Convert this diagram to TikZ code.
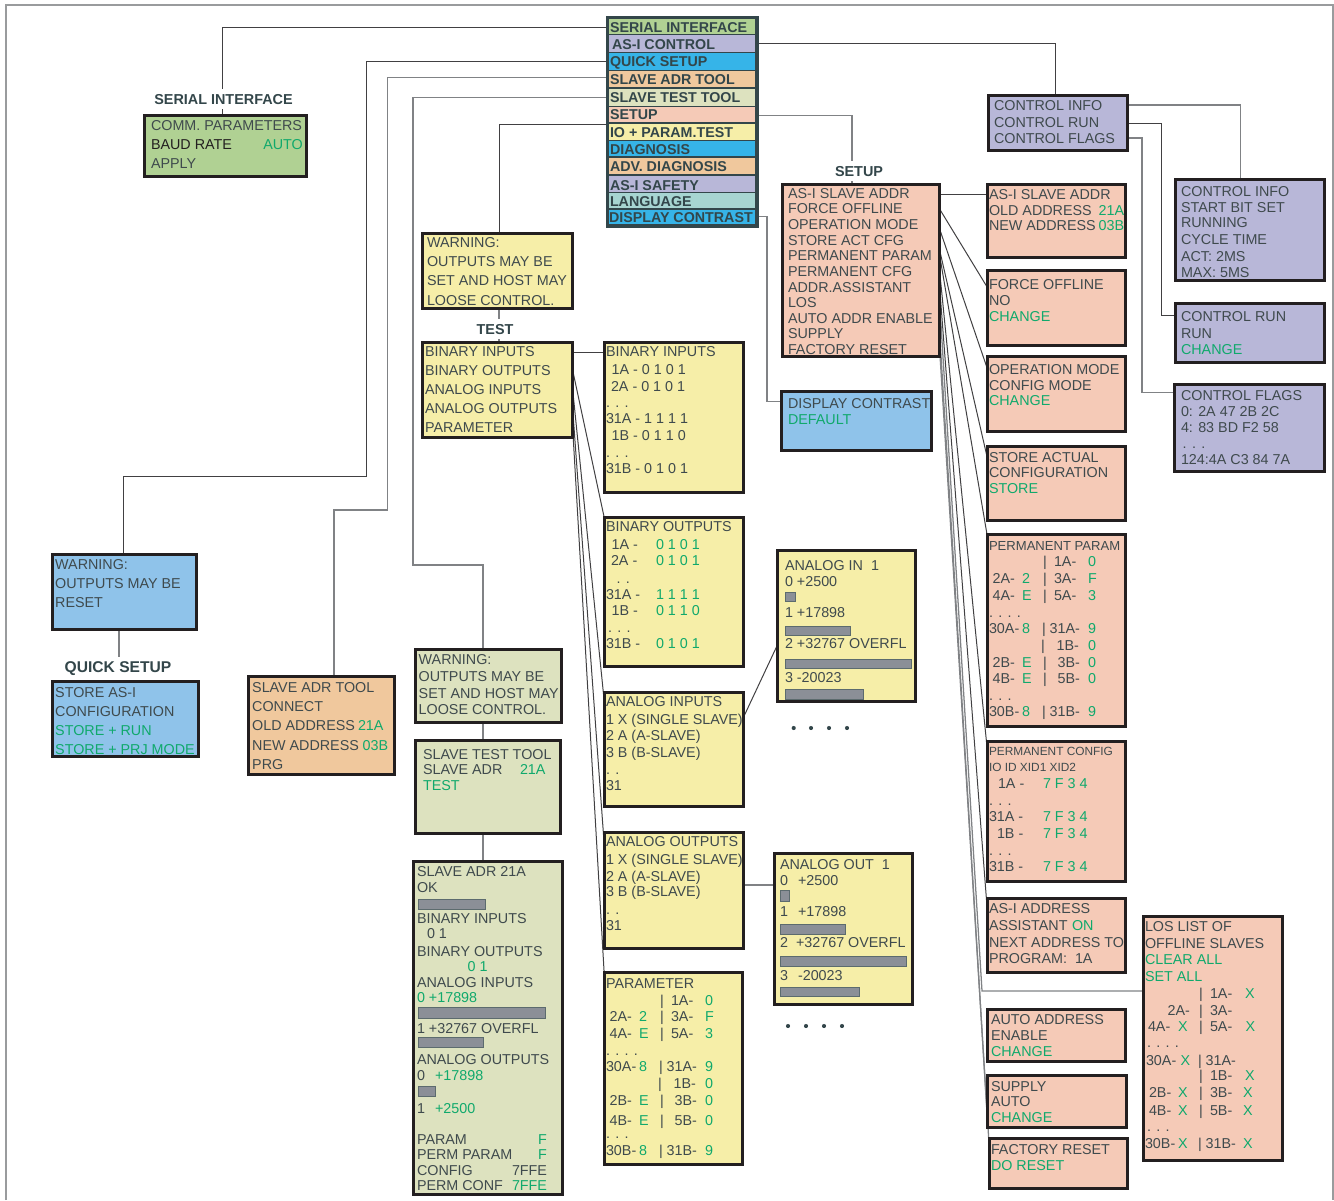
\documentclass[tikz,border=0pt]{standalone}
\usepackage{fontspec}
\setmainfont{Liberation Sans}
\usetikzlibrary{backgrounds}
\definecolor{tc}{HTML}{3F4A4D}
\definecolor{gr}{HTML}{10A96C}
\definecolor{edge}{HTML}{231F20}
\definecolor{cGreen}{HTML}{B0D193}
\definecolor{cLav}{HTML}{B8B7D8}
\definecolor{cBlue}{HTML}{8FC3EA}
\definecolor{cCyan}{HTML}{36B4E8}
\definecolor{cOrange}{HTML}{F0C89D}
\definecolor{cKhaki}{HTML}{DDE2BF}
\definecolor{cSalmon}{HTML}{F5CAB7}
\definecolor{cYellow}{HTML}{F6EEA8}
\definecolor{cTeal}{HTML}{A7D5D1}
\definecolor{cFrame}{HTML}{33464A}
\definecolor{ldark}{HTML}{414042}
\definecolor{lgrey}{HTML}{808285}
\definecolor{cBar}{HTML}{8B8F97}
\newcounter{tn}
\newcommand\tl[2]{\stepcounter{tn}\node[txt] (t\thetn) at (#1) {#2};}
\newcommand\gl[2]{\stepcounter{tn}\node[txt,text=gr] (t\thetn) at (#1) {#2};}
\newcommand\fs[1]{\fontsize{#1}{#1}\selectfont}
% name, fill, outer x1,y1,x2,y2
\newcommand\bx[6]{%
  \pgfmathsetmacro\bw{(#5-#3-2.8)*0.75}%
  \pgfmathsetmacro\bh{(#6-#4-2.8)*0.75}%
  \node[boxx,fill=#2,minimum width=\bw pt,minimum height=\bh pt] (#1) at ({(#3+#5)/2},{(#4+#6)/2}) {};}
% name, fill, y1, y2, text x, base y, text
\newcommand\mrow[7]{%
  \pgfmathsetmacro\bh{(#4-#3)*0.75}%
  \node[rowbox,fill=#2,minimum height=\bh pt] (#1) at (682,{(#3+#4)/2}) {};
  \stepcounter{tn}\node[txt,font=\fs{10.7}\bfseries,text=cFrame] (t\thetn) at (#5,#6) {#7};}
\newcommand\barr[4]{\draw[barst] (#1,#2) rectangle (#3,#4);}
\newcommand\ptab[1]{%
\tl{1043,566.7}{|}\tl{1054,566.7}{1A-}\gl{1088,566.7}{0}
\tl{992.7,583}{2A-}\gl{1022,583}{2}\tl{1043,583}{|}\tl{1054,583}{3A-}\gl{1088,583}{F}
\tl{992.7,600}{4A-}\gl{1022,600}{E}\tl{1043,600}{|}\tl{1054,600}{5A-}\gl{1088,600}{3}
\tl{989,617}{. . . .}
\tl{989,633}{30A-}\gl{1022,633}{8}\tl{1042,633}{|}\tl{1049.7,633}{31A-}\gl{1088,633}{9}
\tl{1041,650}{|}\tl{1056.7,650}{1B-}\gl{1088,650}{0}
\tl{992.7,667}{2B-}\gl{1022,667}{E}\tl{1043,667}{|}\tl{1057.7,667}{3B-}\gl{1088,667}{0}
\tl{992.7,#1}{4B-}\gl{1022,#1}{E}\tl{1043,#1}{|}\tl{1057.7,#1}{5B-}\gl{1088,#1}{0}
\tl{989,700}{. . .}
\tl{989,716.7}{30B-}\gl{1022,716.7}{8}\tl{1042,716.7}{|}\tl{1049.7,716.7}{31B-}\gl{1088,716.7}{9}}
\tikzset{
  txt/.style={anchor=base west,inner sep=0pt,outer sep=0pt,text=tc,font=\fs{10.75}},
  boxx/.style={draw=edge,line width=2.1pt,inner sep=0pt,outer sep=0pt,rectangle},
  rowbox/.style={rectangle,inner sep=0pt,outer sep=0pt,minimum width=109.5pt},
  lab/.style={anchor=base,fill=white,inner xsep=1pt,inner ysep=3.75pt,font=\fs{10.8}\bfseries,text=cFrame},
  ln/.style={draw=ldark,line width=0.75pt},
  lg/.style={draw=lgrey,line width=0.95pt},
  barst/.style={draw=cFrame!80,fill=cBar,line width=0.6pt},
  dotc/.style={fill=cFrame},
}
\begin{document}
\begin{tikzpicture}[x=0.75pt,y=-0.75pt]
\useasboundingbox (0,0) rectangle (1334,1200);
\draw[draw=lgrey!80,line width=0.9pt] (6,1200) -- (6,5) -- (1333,5) -- (1333,1200);

%% central menu
\node[rectangle,fill=cFrame,inner sep=0pt,outer sep=0pt,minimum width=114.75pt,minimum height=159pt] (menu) at (682,121.5) {};
\mrow{rSerial}{cGreen}{19}{34}{610}{32}{SERIAL INTERFACE}
\mrow{rCtl}{cLav}{35}{52}{612}{49}{AS-I CONTROL}
\mrow{rQuick}{cCyan}{53}{70}{610}{66}{QUICK SETUP}
\mrow{rAdr}{cOrange}{71}{87}{610}{84}{SLAVE ADR TOOL}
\mrow{rTest}{cKhaki}{89}{106}{610}{102}{SLAVE TEST TOOL}
\mrow{rSetup}{cSalmon}{107}{122}{610}{119}{SETUP}
\mrow{rIO}{cYellow}{124}{140}{610}{137}{IO + PARAM.TEST}
\mrow{rDiag}{cCyan}{141}{156}{610}{154}{DIAGNOSIS}
\mrow{rAdv}{cOrange}{158}{174}{610}{171}{ADV. DIAGNOSIS}
\mrow{rSafe}{cLav}{176}{192}{610}{190}{AS-I SAFETY}
\mrow{rLang}{cTeal}{193}{208}{610}{206}{LANGUAGE}
\mrow{rDisp}{cCyan}{210}{224}{609}{222}{DISPLAY CONTRAST}

%% serial
\node[lab] (lSerial) at (223.5,104) {SERIAL INTERFACE};
\bx{bSerial}{cGreen}{143}{114}{308}{178}
\tl{151,130}{COMM. PARAMETERS}
\stepcounter{tn}\node[txt,text=edge] (t\thetn) at (151,149) {BAUD RATE};
\gl{263.3,149}{AUTO}
\tl{151,168}{APPLY}

%% quick setup
\bx{bWarnQ}{cBlue}{51}{553}{198}{631}
\tl{55.2,569}{WARNING:}\tl{55.2,588}{OUTPUTS MAY BE}\tl{55.2,607}{RESET}
\node[lab,font=\fs{11.7}\bfseries] (lQuick) at (118,672.7) {QUICK SETUP};
\bx{bQuick}{cBlue}{51}{680}{199.5}{758}
\tl{55.2,697}{STORE AS-I}\tl{55.2,716}{CONFIGURATION}\gl{55.2,735}{STORE + RUN}\gl{55.2,754}{STORE + PRJ MODE}

%% slave adr tool
\bx{bAdr}{cOrange}{247}{675}{396}{776}
\tl{252.2,692}{SLAVE ADR TOOL}\tl{252.2,711}{CONNECT}
\tl{252.2,730}{OLD ADDRESS}\gl{358,730}{21A}
\tl{252.2,750}{NEW ADDRESS}\gl{362.7,750}{03B}
\tl{252.2,769}{PRG}

%% slave test tool
\bx{bWarnT}{cKhaki}{414}{648}{563}{724}
\tl{418.7,664}{WARNING:}\tl{418.7,681}{OUTPUTS MAY BE}\tl{418.7,698}{SET AND HOST MAY}\tl{418.7,714}{LOOSE CONTROL.}
\bx{bTool}{cKhaki}{414}{739}{562}{835}
\tl{423,759}{SLAVE TEST TOOL}\tl{423,774}{SLAVE ADR}\gl{520,774}{21A}\gl{423,790}{TEST}
\bx{bBig}{cKhaki}{412}{860}{564}{1196}
\tl{417,876}{SLAVE ADR 21A}\tl{417,892}{OK}
\barr{418}{899}{485}{909}
\tl{417,923}{BINARY INPUTS}\tl{427,938}{0 1}
\tl{417,956}{BINARY OUTPUTS}\gl{467.7,971}{0 1}
\tl{417,987}{ANALOG INPUTS}\gl{417,1002}{0 +17898}
\barr{418}{1007}{545.7}{1018}
\tl{417,1033}{1 +32767 OVERFL}
\barr{418}{1037}{483}{1047}
\tl{417,1064}{ANALOG OUTPUTS}
\tl{417,1080}{0}\gl{435,1080}{+17898}
\barr{418}{1086}{435}{1096}
\tl{417,1113}{1}\gl{435,1113}{+2500}
\tl{417,1144}{PARAM}\gl{538,1144}{F}
\tl{417,1159}{PERM PARAM}\gl{538,1159}{F}
\tl{417,1175}{CONFIG}\tl{512,1175}{7FFE}
\tl{417,1190}{PERM CONF}\gl{512,1190}{7FFE}

%% IO + param test
\bx{bWarnIO}{cYellow}{421}{232}{574}{310}
\tl{427,247}{WARNING:}\tl{427,266}{OUTPUTS MAY BE}\tl{427,285}{SET AND HOST MAY}\tl{427,305}{LOOSE CONTROL.}
\node[lab] (lTest) at (495,334) {TEST};
\bx{bIO}{cYellow}{421}{341}{574}{439}
\tl{425,356}{BINARY INPUTS}\tl{425,375}{BINARY OUTPUTS}\tl{425,394}{ANALOG INPUTS}\tl{425,413}{ANALOG OUTPUTS}\tl{425,432}{PARAMETER}

\bx{bBinIn}{cYellow}{602.7}{341}{745}{494}
\tl{606,356.7}{BINARY INPUTS}
\tl{611.7,374}{1A - 0 1 0 1}\tl{611,391}{2A - 0 1 0 1}
\tl{606,407.7}{. . .}
\tl{606,423.7}{31A - 1 1 1 1}\tl{611.7,440}{1B - 0 1 1 0}
\tl{606,457.7}{. . .}
\tl{606,473.7}{31B - 0 1 0 1}

\bx{bBinOut}{cYellow}{602.7}{515.7}{745}{668}
\tl{606,531.7}{BINARY OUTPUTS}
\tl{611.7,549}{1A -}\gl{656,549}{0 1 0 1}
\tl{611,565}{2A -}\gl{656,565}{0 1 0 1}
\tl{616.7,583}{. .}
\tl{606,599}{31A -}\gl{656,599}{1 1 1 1}
\tl{611.7,615}{1B -}\gl{656,615}{0 1 1 0}
\tl{608,632}{. . .}
\tl{606,648}{31B -}\gl{656,648}{0 1 0 1}

\bx{bAnIn}{cYellow}{602.7}{691}{745}{808}
\tl{606,706.7}{ANALOG INPUTS}\tl{606,724}{1 X (SINGLE SLAVE)}\tl{606,740.7}{2 A (A-SLAVE)}\tl{606,757}{3 B (B-SLAVE)}\tl{606,774}{. .}\tl{606,790}{31}

\bx{bAnOut}{cYellow}{602.7}{831}{745}{950}
\tl{606,846.7}{ANALOG OUTPUTS}\tl{606,864}{1 X (SINGLE SLAVE)}\tl{606,881}{2 A (A-SLAVE)}\tl{606,896.7}{3 B (B-SLAVE)}\tl{606,914}{. .}\tl{606,930.7}{31}

\bx{bParam}{cYellow}{602.7}{970.7}{743.5}{1166}
\tl{606,988}{PARAMETER}
\begin{scope}[shift={(-383,438.3)}]
\ptab{686.7}
\end{scope}

\bx{bAI1}{cYellow}{776}{549}{917}{703}
\tl{785,570}{ANALOG IN\ \ 1}\tl{785,586.7}{0 +2500}
\barr{785}{592.7}{795}{601.7}
\tl{785,617.7}{1 +17898}
\barr{785}{626.7}{850.7}{635.7}
\tl{785,648.7}{2 +32767 OVERFL}
\barr{785}{659}{911}{668}
\tl{785,682}{3 -20023}
\barr{785}{689}{863}{699}
\foreach \px in {793.7,811,829,847} {\fill[dotc] (\px,728) circle[radius=1.55pt];}

\bx{bAO1}{cYellow}{772.7}{852}{913.7}{1005.7}
\tl{780,869}{ANALOG OUT\ \ 1}
\tl{780,885}{0}\tl{798,885}{+2500}
\barr{780}{890.7}{789.7}{901.7}
\tl{780,916}{1}\tl{798,916}{+17898}
\barr{780}{924}{845}{934}
\tl{780,947}{2}\tl{796,947}{+32767 OVERFL}
\barr{780}{956.7}{906}{966.7}
\tl{780,980}{3}\tl{798,980}{-20023}
\barr{780}{987}{859.7}{996.7}
\foreach \px in {788,806,824,842} {\fill[dotc] (\px,1026) circle[radius=1.55pt];}

%% setup
\node[lab] (lSetup) at (859,176) {SETUP};
\bx{bSetup}{cSalmon}{781}{183}{941}{358}
\tl{788,198}{AS-I SLAVE ADDR}\tl{788,213}{FORCE OFFLINE}\tl{788,229}{OPERATION MODE}\tl{788,245}{STORE ACT CFG}\tl{788,260}{PERMANENT PARAM}\tl{788,276}{PERMANENT CFG}\tl{788,292}{ADDR.ASSISTANT}\tl{788,307}{LOS}\tl{788,323}{AUTO ADDR ENABLE}\tl{788,338}{SUPPLY}\tl{788,354}{FACTORY RESET}

\bx{bDisp}{cBlue}{780}{390}{933}{452}
\tl{788,408}{DISPLAY CONTRAST}\gl{788,424}{DEFAULT}

\bx{sAddr}{cSalmon}{985.7}{183}{1126.7}{259}
\tl{989,199}{AS-I SLAVE ADDR}\tl{989,215}{OLD ADDRESS}\gl{1098.7,215}{21A}\tl{989,230}{NEW ADDRESS}\gl{1098.7,230}{03B}
\bx{sForce}{cSalmon}{985.7}{269}{1126.7}{347}
\tl{989,289}{FORCE OFFLINE}\tl{989,305}{NO}\gl{989,321}{CHANGE}
\bx{sOper}{cSalmon}{985.7}{355}{1126.7}{433}
\tl{989,374}{OPERATION MODE}\tl{989,390}{CONFIG MODE}\gl{989,405}{CHANGE}
\bx{sStore}{cSalmon}{985.7}{445}{1126.7}{521.7}
\tl{989,462}{STORE ACTUAL}\tl{989,477.7}{CONFIGURATION}\gl{989,493}{STORE}
\bx{sPerm}{cSalmon}{985.7}{532.7}{1126.7}{728}
\tl{989,550}{\fs{9.8}PERMANENT PARAM}
\ptab{683}
\bx{sCfg}{cSalmon}{985.7}{740}{1126.7}{883}
\tl{989,755}{\fs{8.9}PERMANENT CONFIG}\tl{989,771.7}{\fs{8.9}IO ID XID1 XID2}
\tl{998,788.7}{1A -}\gl{1043,788.7}{7 F 3 4}
\tl{989,805}{. . .}
\tl{989,821.7}{31A -}\gl{1043,821.7}{7 F 3 4}
\tl{997,838}{1B -}\gl{1043,838}{7 F 3 4}
\tl{989,855}{. . .}
\tl{989,871.7}{31B -}\gl{1043,871.7}{7 F 3 4}
\bx{sAssist}{cSalmon}{985.7}{897}{1126.7}{974}
\tl{989,913}{AS-I ADDRESS}\tl{989,930}{ASSISTANT}\gl{1072,930}{ON}\tl{989,947}{NEXT ADDRESS TO}\tl{989,963}{PROGRAM:\ \ 1A}
\bx{sAuto}{cSalmon}{985.7}{1008}{1126.7}{1063}
\tl{991,1024}{AUTO ADDRESS}\tl{991,1040}{ENABLE}\gl{991,1056}{CHANGE}
\bx{sSupply}{cSalmon}{986}{1074}{1128}{1129}
\tl{991,1091}{SUPPLY}\tl{991,1106}{AUTO}\gl{991,1122}{CHANGE}
\bx{sFact}{cSalmon}{987.7}{1137}{1128.7}{1190}
\tl{991,1154}{FACTORY RESET}\gl{991,1170}{DO RESET}
\bx{sLos}{cSalmon}{1141.7}{915}{1284}{1162}
\tl{1145,931}{LOS LIST OF}\tl{1145,948}{OFFLINE SLAVES}\gl{1145,964}{CLEAR ALL}\gl{1145,981}{SET ALL}
\tl{1199,998}{|}\tl{1210,998}{1A-}\gl{1245,998}{X}
\tl{1167.7,1015}{2A-}\tl{1199,1015}{|}\tl{1210,1015}{3A-}
\tl{1148,1031.7}{4A-}\gl{1178,1031.7}{X}\tl{1199,1031.7}{|}\tl{1210,1031.7}{5A-}\gl{1245.7,1031.7}{X}
\tl{1147,1047.7}{. . . .}
\tl{1146,1065}{30A-}\gl{1180.7,1065}{X}\tl{1198,1065}{|}\tl{1205.7,1065}{31A-}
\tl{1199,1080}{|}\tl{1210,1080}{1B-}\gl{1245,1080}{X}
\tl{1149,1097}{2B-}\gl{1178,1097}{X}\tl{1199,1097}{|}\tl{1210,1097}{3B-}\gl{1243,1097}{X}
\tl{1149,1115}{4B-}\gl{1178,1115}{X}\tl{1199,1115}{|}\tl{1210,1115}{5B-}\gl{1243,1115}{X}
\tl{1147,1131.7}{. . .}
\tl{1145,1148}{30B-}\gl{1178,1148}{X}\tl{1198,1148}{|}\tl{1205.7,1148}{31B-}\gl{1243,1148}{X}

%% AS-i control
\bx{bCtl}{cLav}{986.7}{94}{1129}{152}
\tl{994,110.7}{CONTROL INFO}\tl{994,127.7}{CONTROL RUN}\tl{994,143.5}{CONTROL FLAGS}
\bx{cInfo}{cLav}{1174}{178}{1326}{282}
\tl{1181,196}{CONTROL INFO}\tl{1181,212}{START BIT SET}\tl{1181,227.7}{RUNNING}\tl{1181,244}{CYCLE TIME}\tl{1181,261}{ACT: 2MS}\tl{1181,277}{MAX: 5MS}
\bx{cRun}{cLav}{1174}{301.7}{1326}{364}
\tl{1181,321.7}{CONTROL RUN}\tl{1181,338}{RUN}\gl{1181,354}{CHANGE}
\bx{cFlags}{cLav}{1172.7}{383}{1326}{473}
\tl{1181,400}{CONTROL FLAGS}\tl{1181,416}{0: 2A 47 2B 2C}\tl{1181,432}{4: 83 BD F2 58}\tl{1182.7,448}{. . .}\tl{1181,464}{124:4A C3 84 7A}

%% connectors
\begin{pgfonlayer}{background}
\draw[ln] (rSerial.west |- 0,27.5) -| (222.6,0 |- bSerial.north);
\draw[ln] (rQuick.west |- 0,61.7) -| (366.7,476) -| (123,0 |- bWarnQ.north);
\draw[lg] (rAdr.west |- 0,77.7) -| (387.7,510) -| (334,0 |- bAdr.north);
\draw[lg] (rTest.west |- 0,97.7) -| (413,565) -| (483,0 |- bWarnT.north);
\draw[ln] (rIO.west |- 0,124) -| (499,0 |- bWarnIO.north);
\draw[ln] (rCtl.east |- 0,43.5) -| (1055,0 |- bCtl.north);
\draw[lg] (rSetup.east |- 0,115.7) -| (852,0 |- bSetup.north);
\draw[lg] (rDisp.east |- 0,216.7) -| (767,401.7) -- (bDisp.west |- 0,401.7);
\draw[lg] (119,0 |- bWarnQ.south) -- (119,0 |- bQuick.north);
\draw[lg] (483,0 |- bWarnT.south) -- (483,0 |- bTool.north);
\draw[lg] (483,0 |- bTool.south) -- (483,0 |- bBig.north);
\draw[lg] (499,0 |- bWarnIO.south) -- (499,0 |- bIO.north);
%% IO fan
\draw[ln] (bIO.east |- 0,352) -- (bBinIn.west |- 0,352);
\draw[ln] (bIO.east |- 0,370) -- (bBinOut.west |- 0,517);
\draw[ln] (bIO.east |- 0,389) -- (bAnIn.west |- 0,700);
\draw[ln] (bIO.east |- 0,408) -- (bAnOut.west |- 0,843);
\draw[ln] (bIO.east |- 0,427) -- (bParam.west |- 0,972);
\draw[ln] (bAnIn.east |- 0,717) -- (bAI1.west |- 0,645);
\draw[lg] (bAnOut.east |- 0,885) -- (bAO1.west |- 0,885);
%% setup fan
\draw[ln] (bSetup.east |- 0,194) -- (sAddr.west |- 0,194);
\draw[ln] (bSetup.east |- 0,209) -- (sForce.west |- 0,287);
\draw[ln] (bSetup.east |- 0,229) -- (sOper.west |- 0,368);
\draw[ln] (bSetup.east |- 0,250) -- (sStore.west |- 0,457);
\draw[ln] (bSetup.east |- 0,255) -- (sPerm.west |- 0,535);
\draw[ln] (bSetup.east |- 0,271) -- (sCfg.west |- 0,748);
\draw[ln] (bSetup.east |- 0,287) -- (sAssist.west |- 0,908);
\draw[lg] (bSetup.east |- 0,302) -- (982,991) -- (sLos.west |- 0,991);
\draw[lg] (bSetup.east |- 0,333) -- (sSupply.west |- 0,1120);
\draw[lg] (bSetup.east |- 0,349) -- (sFact.west |- 0,1145);
%% control
\draw[lg] (bCtl.east |- 0,105) -| (1240.7,0 |- cInfo.north);
\draw[ln] (bCtl.east |- 0,123.3) -| (1161.7,315.7) -- (cRun.west |- 0,315.7);
\draw[lg] (bCtl.east |- 0,138) -| (1142,392.7) -- (cFlags.west |- 0,392.7);
\end{pgfonlayer}
\end{tikzpicture}
\end{document}
